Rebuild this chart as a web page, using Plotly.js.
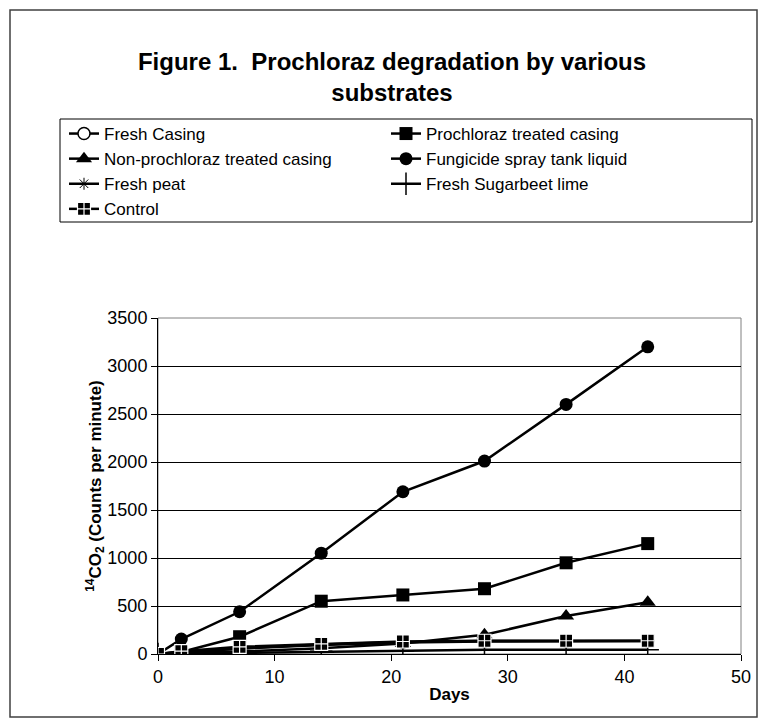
<!DOCTYPE html>
<html>
<head>
<meta charset="utf-8">
<script src="https://cdn.plot.ly/plotly-3.0.1.min.js"></script>
<style>html,body{margin:0;padding:0;background:#fff;}#chart{width:764px;height:718px;}</style>
</head>
<body>
<div id="chart"></div>
<script>
// Days of sampling
const days = [0, 2, 7, 14, 21, 28, 35, 42];
// Series names
const seriesNames = [
  "Fresh Casing",
  "Prochloraz treated casing",
  "Non-prochloraz treated casing",
  "Fungicide spray tank liquid",
  "Fresh peat",
  "Fresh Sugarbeet lime",
  "Control"
];
// 14CO2 counts per minute
const freshCasing      = [0, 20, 60, 100, 125, 135, 135, 135];
const prochlorazCasing = [0, 20, 180, 550, 615, 680, 950, 1150];
const nonProchloraz    = [0, 10, 25, 60, 110, 200, 395, 540];
const fungicideLiquid  = [0, 155, 440, 1050, 1690, 2010, 2600, 3200];
const freshPeat        = [0, 15, 55, 95, 120, 130, 135, 135];
const sugarbeetLime    = [0, 3, 10, 28, 35, 45, 45, 45];
const control          = [0, 30, 75, 105, 130, 138, 138, 138];

const seriesValues = [freshCasing, prochlorazCasing, nonProchloraz, fungicideLiquid, freshPeat, sugarbeetLime, control];
const markerStyles = [
  {symbol: "circle", color: "white", size: 12, line: {color: "black", width: 1.5}},
  {symbol: "square", color: "black", size: 13, line: {color: "black", width: 0}},
  {symbol: "triangle-up", color: "black", size: 14, line: {color: "black", width: 0}},
  {symbol: "circle", color: "black", size: 13, line: {color: "black", width: 0}},
  {symbol: "asterisk-open", color: "black", size: 10, line: {color: "black", width: 1}},
  {symbol: "cross-thin-open", color: "black", size: 16, line: {color: "black", width: 1.5}},
  {symbol: "square-cross", color: "black", size: 13, line: {color: "white", width: 1.2}}
];

const traces = seriesNames.map((name, i) => ({
  x: days,
  y: seriesValues[i],
  name: name,
  type: "scatter",
  mode: "lines+markers",
  line: {color: "black", width: 2.5},
  marker: markerStyles[i]
}));

// plot area: x 158..741, y 318..654
const W = 764, H = 718;
const L = 158, R = W - 741, T = 318, B = H - 654;
const pw = W - L - R, ph = H - T - B;
const px = v => (v - L) / pw;
const py = v => (H - B - v) / ph;

const layout = {
  width: W, height: H,
  margin: {l: L, r: R, t: T, b: B},
  paper_bgcolor: "white",
  plot_bgcolor: "white",
  font: {family: "Liberation Sans, Arial, sans-serif", color: "black", size: 18},
  title: {
    text: "<b>Figure 1.  Prochloraz degradation by various<br>substrates</b>",
    font: {size: 24, family: "Liberation Sans, Arial, sans-serif", color: "black"},
    x: 392 / W, xanchor: "center",
    y: 1 - 70 / H, yanchor: "top", yref: "container"
  },
  xaxis: {
    range: [0, 50], dtick: 10, tick0: 0,
    showline: true, linecolor: "black", linewidth: 1,
    ticks: "outside", ticklen: 6, tickcolor: "black",
    showgrid: false, zeroline: false,
    tickfont: {size: 18},
    title: {text: "<b>Days</b>", font: {size: 17}, standoff: 2}
  },
  yaxis: {
    range: [0, 3500], dtick: 500, tick0: 0,
    showline: true, linecolor: "black", linewidth: 1,
    ticks: "outside", ticklen: 6, tickcolor: "black",
    showgrid: true, gridcolor: "black", gridwidth: 1,
    zeroline: false,
    tickfont: {size: 18},
    title: {text: "<b><sup>14</sup>CO<sub>2</sub> (Counts per minute)</b>", font: {size: 17}, standoff: 1}
  },
  showlegend: true,
  legend: {
    orientation: "h",
    x: px(64), xanchor: "left",
    y: py(116), yanchor: "top",
    entrywidth: 277, entrywidthmode: "pixels",
    borderwidth: 0,
    bgcolor: "rgba(0,0,0,0)",
    font: {size: 17},
    itemwidth: 30,
    traceorder: "normal"
  },
  shapes: [
    {type: "rect", xref: "paper", yref: "paper", x0: 0, x1: 1, y0: 0, y1: 1,
     line: {color: "#808080", width: 1}, layer: "below"},
    {type: "rect", xref: "paper", yref: "paper",
     x0: px(60), x1: px(752), y0: py(222), y1: py(119),
     line: {color: "black", width: 1}},
    {type: "rect", xref: "paper", yref: "paper",
     x0: px(10), x1: px(757), y0: py(717), y1: py(10),
     line: {color: "#404040", width: 1.5}}
  ]
};

Plotly.newPlot("chart", traces, layout, {staticPlot: true, displayModeBar: false});
</script>
</body>
</html>
